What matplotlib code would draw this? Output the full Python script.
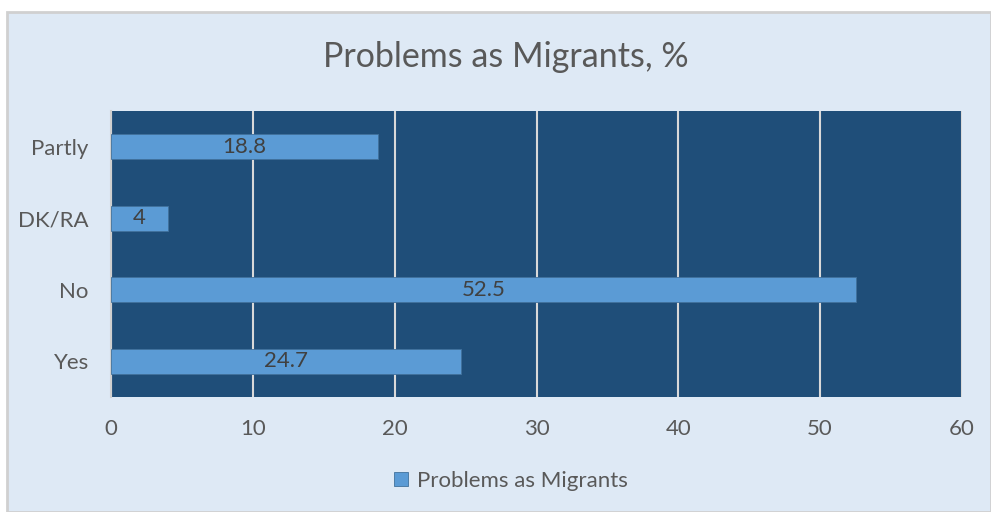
import matplotlib.pyplot as plt
from matplotlib.patches import Rectangle

categories = ["Yes", "No", "DK/RA", "Partly"]
values = [24.7, 52.5, 4, 18.8]
xticks = [0, 10, 20, 30, 40, 50, 60]

plt.rcParams['font.family'] = ['Lato', 'DejaVu Sans']

W, H = 991, 512
fig = plt.figure(figsize=(W / 100, H / 100), dpi=100, facecolor="white")

# light blue chart panel with grey frame
panel = Rectangle((7 / W, 0), (W - 7) / W, (H - 12) / H,
                  transform=fig.transFigure, facecolor="#dee9f5",
                  edgecolor="#d0d0d0", linewidth=2, zorder=-10)
fig.add_artist(panel)

ax = fig.add_axes([111 / W, 1 - 397 / H, (962 - 111) / W, (397 - 111) / H])
ax.set_facecolor("#1f4e79")

pos = range(len(categories))
bars = ax.barh(pos, values, height=0.35, color="#5b9bd5", edgecolor="#41719c",
               linewidth=0.6, zorder=3, label="Problems as Migrants")
for b, v in zip(bars, values):
    ax.text(b.get_width() / 2, b.get_y() + b.get_height() / 2, f"{v:g}",
            ha="center", va="center", fontsize=16, color="#404040", zorder=4)

ax.set_xlim(0, 60)
ax.set_ylim(-0.5, len(categories) - 0.5)
ax.set_xticks(xticks)
ax.set_yticks(list(pos))
ax.set_yticklabels(categories)
ax.xaxis.grid(True, color="#d9d9d9", linewidth=1.5, zorder=1)
ax.tick_params(length=0, labelsize=16, labelcolor="#595959")
ax.tick_params(axis="x", pad=16)
ax.tick_params(axis="y", pad=16)
for s in ["top", "right", "bottom"]:
    ax.spines[s].set_visible(False)
ax.spines["left"].set_color("#d0d0d0")
ax.spines["left"].set_linewidth(1.5)

fig.text(506 / W, 1 - 57 / H, "Problems as Migrants, %", ha="center",
         va="center", fontsize=24.5, color="#595959")

fig.legend(handles=[bars], loc="center", bbox_to_anchor=(511 / W, 1 - 481 / H),
           frameon=False, fontsize=16, labelcolor="#595959", handlelength=0.6,
           handleheight=0.6, handletextpad=0.4)

fig.savefig("out.png", dpi=100, facecolor="white")
